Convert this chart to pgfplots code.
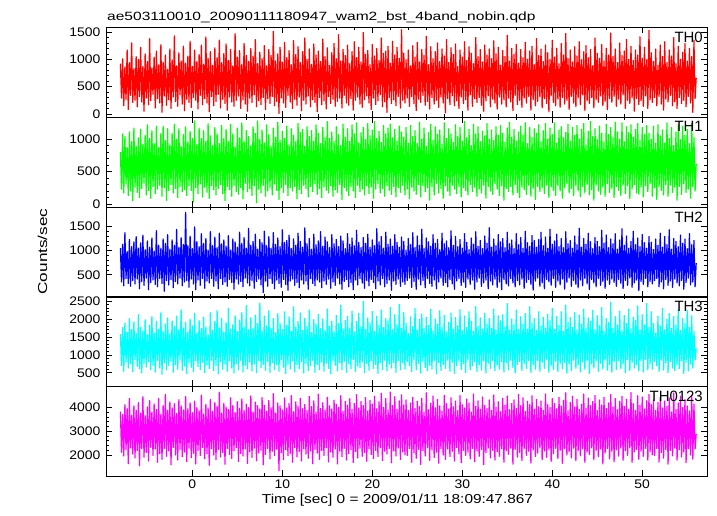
\documentclass[border=0pt]{standalone}
\usepackage{fontspec}
\setmainfont{Liberation Sans}
\setsansfont{Liberation Sans}
\usepackage{pgfplots}
\usepackage{pgfplotstable}
\pgfplotsset{compat=1.18}
\definecolor{qred}{rgb}{1,0,0}
\definecolor{qgreen}{rgb}{0,1,0}
\definecolor{qblue}{rgb}{0,0,1}
\definecolor{qcyan}{rgb}{0,1,1}
\definecolor{qmag}{rgb}{1,0,1}
% samples every 0.125 s from t=-8 s; columns TH0 TH1 TH2 TH3 TH0123
\pgfplotstableread{
a b c d e
920 800 1050 1580 3820
290 230 350 700 2120
1010 1080 1130 1760 3690
150 170 270 540 1960
860 1040 1370 1890 4110
270 310 420 800 2230
1170 870 980 1630 3950
80 130 320 630 1640
940 1110 1230 2010 4370
340 200 260 750 2300
1300 960 1080 1710 3670
210 50 380 530 2040
830 1170 1180 1920 4060
250 260 310 860 1880
1050 890 1290 1600 3880
130 180 410 680 2190
1000 1020 1050 2120 4200
320 100 210 610 1550
1220 1150 1160 1770 3760
220 240 360 490 2270
870 920 1320 1670 4450
50 320 280 760 1910
1100 1060 1020 1980 3650
290 140 430 660 2110
960 1220 1200 1560 4020
170 210 190 810 1750
1380 1010 1070 1830 4280
240 90 340 580 2330
840 1130 1260 2070 3800
360 270 390 710 1980
1040 930 990 1620 4140
110 160 300 520 2250
1150 1200 1410 1940 3910
280 230 250 850 1700
900 870 1110 1720 4370
200 290 420 630 2060
1270 1090 1050 2190 3710
30 120 320 460 1820
950 1200 1240 1650 4080
330 250 160 770 2280
1080 980 1150 1860 4540
160 60 380 580 1950
820 1160 1330 2030 3870
260 210 290 700 2170
1190 910 1030 1590 4230
100 300 400 820 1590
990 1090 1220 1950 3980
310 170 230 510 2320
1430 1230 1110 1800 4150
230 240 360 730 2000
880 1000 1440 2080 3750
140 100 310 600 1790
1120 1160 1070 1700 4320
350 270 430 870 2240
970 890 1270 2260 4060
180 190 270 570 1930
1240 1070 1130 1750 3890
60 220 350 690 2130
930 1190 1790 1910 4460
270 130 380 480 1720
1060 960 1100 1640 3940
210 280 240 780 2290
1330 1120 1300 2000 4190
120 210 410 650 1890
870 1010 1040 1810 3780
300 30 310 530 2080
1170 1280 1490 2160 4260
250 250 190 840 1630
960 920 1190 1610 4000
90 160 390 670 2190
1090 1170 1080 1960 3860
340 310 280 590 1980
1260 1010 1350 1730 4510
170 110 420 790 2320
910 1130 1150 2050 3720
280 260 220 500 1850
1410 970 1250 1780 4130
200 180 370 720 2050
1020 1240 1010 1570 3970
40 90 330 620 1570
1140 1050 1390 2180 4330
320 280 420 850 2260
890 900 1100 1690 3840
150 220 260 560 2000
1210 1180 1280 1940 4210
230 140 370 700 1800
1030 1080 1060 2240 4050
360 240 210 470 2230
1350 930 1360 1750 4630
110 300 420 810 1920
940 1210 1140 2020 3770
270 160 300 600 2110
1110 1010 1220 1630 4170
190 50 350 740 1620
1280 1150 1090 1900 4010
70 270 260 540 2270
980 960 1310 2300 3910
310 220 400 830 2020
1180 1230 1010 1720 4400
220 120 340 630 1860
880 1080 1240 1840 4080
140 290 200 490 2180
1470 880 1180 2090 3790
250 190 410 760 2310
1040 1170 1070 1650 4240
330 150 310 580 1730
1160 1020 1380 1970 3960
100 250 360 850 2070
910 1250 1150 2180 4350
260 80 250 520 1960
1290 970 1270 1780 3870
180 320 430 710 2250
1070 1130 1050 2370 4130
50 190 330 610 1650
960 1040 1460 1700 3990
290 240 270 800 2140
1200 900 1110 2040 4480
210 130 380 550 1900
1060 1190 1190 1740 3810
350 280 220 750 2290
1360 1090 1340 2110 4220
130 20 360 500 1760
920 1280 1030 1870 4070
240 230 410 840 2090
1130 990 1230 2440 3930
170 170 290 630 2200
1010 1140 1160 1670 4410
300 290 130 730 1590
1250 940 1400 2080 4090
80 120 370 570 2030
880 1220 1100 1810 3840
280 200 260 820 2280
1180 1070 1290 2230 4290
190 260 420 510 1840
1070 890 1050 1740 3980
320 140 320 780 2160
1510 1170 1370 2010 4570
150 310 210 590 1980
970 1030 1130 1620 3760
230 210 390 720 2240
1100 1260 1260 2150 4180
10 70 320 540 1340
1220 980 1080 1880 4060
290 250 240 860 2100
950 1120 1430 1710 3890
200 180 400 650 1810
1310 1010 1170 2200 4390
120 300 300 480 2220
1030 1200 1210 1830 3970
340 130 180 740 1970
1160 910 1320 2060 4160
220 250 370 600 2070
900 1160 1040 1660 4490
100 200 410 830 1700
1340 1060 1240 2340 3820
270 270 280 520 2310
1090 960 1110 1770 4230
160 80 340 720 1920
1230 1240 1360 1930 4040
310 220 230 610 2150
940 1100 1190 2170 4380
60 160 390 810 1750
1140 1150 1070 1680 3940
250 290 310 490 2260
1390 890 1470 2020 4120
180 240 370 760 2040
1000 1190 1140 1790 3860
330 110 200 560 1870
1190 1040 1250 2250 4460
130 270 420 700 2170
910 1130 1030 1620 4030
260 190 320 850 1640
1280 970 1340 1980 4270
210 310 270 510 2240
1080 1220 1120 1850 3800
40 150 390 730 2080
1150 1090 1200 2130 4550
300 240 350 590 1820
960 930 1390 1730 3950
170 100 230 800 2190
1370 1180 1090 2000 4190
240 260 370 540 1980
1050 1020 1280 1690 3880
90 210 300 770 2300
1210 1270 1180 2280 4420
320 170 410 620 1710
890 1010 1060 1800 4060
190 280 220 470 2130
1120 1110 1330 1940 3930
270 120 350 840 1910
1290 960 1140 1660 4300
140 220 280 710 2250
1010 1190 1230 2100 4120
230 180 430 550 1630
1450 1070 1080 1870 3990
290 300 310 780 2170
970 900 1300 2390 4490
110 70 200 580 1930
1180 1230 1200 1720 3830
340 250 360 820 2280
1070 1030 1040 1960 4250
200 200 400 510 1790
1260 1160 1350 2070 4090
160 130 250 750 2060
920 970 1130 1750 4360
280 270 340 610 2220
1140 1220 1260 2220 3910
70 200 190 870 1690
1320 1080 1100 1640 4160
250 100 390 530 2150
1030 1250 1420 1930 4530
310 290 290 690 1880
1220 940 1170 2160 3970
180 190 420 640 2290
950 1100 1060 1780 4240
120 230 330 800 1950
1490 1180 1270 2490 4070
260 140 220 500 2110
1090 990 1150 1710 4410
330 280 380 760 1740
1160 1240 1340 2030 3850
200 160 270 570 2260
900 1050 1070 1870 4290
80 260 400 830 2020
1270 1140 1220 2210 4140
290 90 340 620 1850
1060 1270 1100 1650 4460
170 230 210 730 2190
1200 1010 1450 2080 3940
240 310 370 480 1940
980 1120 1180 1820 4230
350 170 290 780 2300
1390 950 1290 2250 4590
130 240 420 590 1770
1110 1210 1050 1760 4000
220 120 250 850 2160
1150 1080 1380 2010 4370
30 280 320 550 2040
1240 1170 1130 1950 3890
300 210 390 740 2270
930 1230 1240 2320 4640
190 150 180 630 1680
1330 1020 1090 1700 4080
260 270 370 790 2180
1080 1150 1330 2120 4440
150 110 300 510 1960
1220 970 1170 1840 3920
320 250 410 840 2290
1020 1200 1070 2410 4270
110 180 260 580 1810
1540 1110 1280 1740 4520
250 290 350 770 2130
1110 1030 1190 2180 4100
200 140 300 600 2010
990 1180 1010 1880 4310
290 230 380 810 1980
1170 940 1250 1600 3870
140 80 430 700 2270
880 1210 1120 2060 4180
320 260 240 530 1700
1250 1040 1370 1790 4420
190 200 360 860 2090
1040 1130 1060 2290 3960
60 150 200 580 1860
1310 930 1300 1690 4250
270 300 410 760 2240
950 1260 1110 1990 4030
210 110 290 490 1610
1180 1000 1440 2140 4380
340 280 380 820 2180
1070 1170 1040 1730 3790
160 190 230 640 1960
1420 890 1260 2050 4610
230 250 420 550 2300
900 1100 1180 1820 3900
90 60 320 710 1780
1230 1230 1090 2270 4170
300 270 260 600 2210
1010 980 1330 1660 4470
180 140 390 840 1900
1140 1190 1150 2000 3980
250 320 210 470 2120
1300 1070 1230 1860 4330
120 170 350 780 1660
960 1140 1020 2230 4060
310 240 430 560 2270
1190 920 1360 1770 3840
200 90 280 730 2000
1060 1250 1140 2100 4500
20 280 340 620 1820
1360 1010 1200 1640 4150
280 200 250 850 2250
940 1160 1060 1910 3930
170 130 400 540 1940
1210 1080 1410 2170 4400
330 290 310 790 2160
1090 950 1110 1720 4020
150 230 200 480 1750
1280 1220 1290 2040 4260
240 160 370 700 2310
870 1040 1080 1810 3860
100 270 420 820 2050
1170 1180 1230 2260 4490
310 110 280 590 1680
1040 970 1050 1680 4110
190 250 350 750 2200
1320 1270 1350 2080 3970
260 210 240 510 1990
980 1020 1170 1760 4350
70 140 410 860 2120
1230 1150 1020 2200 4180
350 300 300 580 1840
1110 900 1260 1940 3800
140 190 390 690 2280
920 1230 1130 1650 4560
280 260 200 800 1720
1400 1080 1390 2350 4040
210 120 350 530 2170
1050 1190 1090 1790 4270
300 230 430 720 1950
1180 960 1210 2030 3920
160 170 260 570 2240
950 1120 1040 1720 4430
50 290 330 830 1600
1260 1050 1300 2160 4080
240 90 390 490 2100
1080 1240 1150 1860 3950
330 270 210 760 2290
1190 1000 1470 2010 4310
130 200 370 620 1880
1010 1140 1070 1740 3870
270 150 290 840 2200
1340 980 1240 2280 4520
200 310 410 550 1790
1100 1190 1100 1690 4000
90 230 240 710 2140
1220 1060 1330 2090 4230
310 130 350 600 1950
890 1210 1180 1950 3810
180 280 190 800 2260
1160 1090 1250 2120 4380
260 60 400 520 1700
1050 950 1060 1780 4090
130 240 310 770 2180
1440 1170 1380 2430 4470
290 190 270 580 2030
970 1260 1140 1690 3900
220 270 420 850 2290
1200 1030 1220 2000 4160
60 140 330 640 1620
1090 1150 1040 1840 4310
340 300 250 490 2240
1270 970 1350 2250 3950
170 180 380 730 1910
930 1110 1120 1700 4540
250 100 290 810 2110
1180 1200 1270 2060 4070
120 260 410 560 1770
1030 1060 1050 1850 4400
290 220 220 760 2270
1310 1250 1400 2150 3830
200 150 340 620 1990
1000 930 1160 1720 4250
320 290 400 840 2160
1150 1180 1090 2340 4120
70 120 300 500 1660
1240 1020 1310 1890 4480
260 240 180 720 2210
900 1160 1210 2010 3920
150 70 370 600 1940
1380 1090 1070 1680 4330
230 270 430 830 2080
1070 1220 1230 2200 4020
310 190 260 540 2300
1190 960 1380 1800 4260
110 250 330 780 1800
960 1130 1100 2050 3880
280 160 210 620 2170
1260 1240 1280 1750 4560
190 290 400 870 1900
1120 1000 1050 2130 4110
40 100 350 510 2230
1000 1170 1440 1960 3990
330 260 280 700 1730
1350 1070 1130 2300 4370
210 210 420 590 2050
1040 1250 1200 1710 4160
150 130 240 820 2280
1200 940 1340 2070 3940
270 280 370 530 1850
920 1140 1080 1820 4420
120 200 290 750 2190
1290 1190 1250 2200 4050
300 90 410 610 1650
1080 1020 1060 1660 4290
180 250 200 790 2260
1470 1100 1390 2390 4610
250 310 340 480 2000
1010 1230 1140 1910 3850
80 170 430 740 2140
1170 970 1210 2040 4200
320 240 260 560 1880
950 1180 1050 1770 4460
200 130 380 850 2290
1230 1060 1300 2180 4010
130 280 300 620 1760
1060 1210 1120 1690 4340
290 200 230 710 2180
1320 1000 1460 2110 3920
170 110 390 520 1970
990 1150 1070 1860 4130
350 270 270 800 2260
1140 1240 1250 2270 4560
60 170 420 590 1690
1250 910 1130 1750 3960
240 300 310 830 2120
1030 1120 1360 2030 4390
190 140 190 480 2020
1180 1270 1180 1940 4080
300 220 400 740 2300
880 1040 1040 2240 4240
110 60 330 630 1800
1390 1160 1270 1700 4490
260 290 250 820 2190
1110 990 1190 2090 3870
210 200 420 540 1930
1020 1200 1080 1810 4310
330 150 280 760 2250
1270 1090 1420 2320 4100
150 260 360 600 1630
970 950 1150 1660 4420
230 120 220 850 2080
1200 1230 1320 2010 3950
80 310 390 570 2270
1080 1070 1060 1900 4180
280 180 300 720 1840
1480 1180 1240 2470 4540
210 240 410 510 2150
1050 1020 1140 1740 4010
320 100 340 800 1720
1190 1260 1350 2070 4370
140 270 260 590 2220
940 1110 1030 1830 3900
270 210 400 830 1960
1300 1000 1220 2220 4250
180 130 320 610 2290
1070 1250 1450 1680 4460
350 290 210 740 1780
1150 960 1110 2100 4030
100 160 380 500 2180
1360 1190 1300 1870 4340
250 280 280 860 1990
1000 1100 1050 2280 3920
190 80 430 560 2300
1240 1220 1190 1730 4620
300 230 240 780 1690
980 1030 1400 2050 4150
50 300 330 630 2130
1170 1150 1120 1960 3880
280 170 390 720 2240
1080 1240 1260 2360 4480
170 150 170 550 1820
1410 980 1080 1700 4080
240 260 360 840 2160
1020 1180 1330 2120 4430
140 110 300 520 1950
1220 1070 1160 1830 3930
330 280 420 860 2280
990 1210 1050 2430 4270
100 190 250 580 1790
1530 1090 1290 1760 4540
260 310 360 750 2140
1120 1000 1170 2200 4120
210 120 310 600 2010
960 1200 1020 1870 4310
300 250 380 820 1980
1190 940 1240 1610 3860
150 70 420 690 2270
890 1220 1110 2080 4200
320 270 250 540 1710
1260 1050 1360 1800 4410
180 210 350 850 2100
1050 1140 1070 2300 3970
70 140 210 570 1870
1320 940 1290 1700 4260
270 300 400 770 2230
940 1250 1120 2000 4040
220 120 280 500 1620
1170 1010 1430 2150 4390
340 290 370 810 2190
1060 1180 1030 1740 3800
150 180 240 630 1970
1400 900 1250 2070 4600
220 260 410 560 2290
920 1110 1190 1830 3910
100 60 330 720 1790
1240 1220 1080 2260 4180
300 270 270 610 2220
1000 990 1320 1680 4460
190 150 380 830 1920
1130 1200 1150 2010 3990
250 310 200 480 2130
1290 1060 1240 1870 4320
130 180 340 790 1680
970 1150 1040 2240 4060
320 230 430 550 2260
1200 930 1350 1770 3850
200 90 290 740 2000
1050 1240 1120 2090 4500
30 270 350 630 1830
1350 1020 1210 1650 4140
280 200 250 850 2250
660 620 740 1180 2880
}\lc
\newcommand{\tl}[1]{\scalebox{1.12}[1]{#1}}
\pgfplotsset{
  panel/.style={
    scale only axis, width=601bp, height=90bp,
    anchor=north west,
    xmin=-9.6, xmax=57.2,
    xtick={0,10,...,50}, minor x tick num=4, minor y tick num=4,
    tick align=inside, major tick length=6bp, minor tick length=3bp,
    axis line style={line width=0.8bp},
    every tick/.style={black, line width=0.6bp},
    tick label style={font=\fontsize{12.5}{14}\selectfont},
    /pgf/number format/assume math mode=true,
    /pgf/number format/1000 sep={},
    xticklabel={\tl{\pgfmathprintnumber{\tick}}},
    yticklabel={\tl{\pgfmathprintnumber{\tick}}},
    yticklabel style={xshift=-2bp},
    every axis plot/.append style={line width=1.2bp, line join=round, mark=none},
  },
}
\tikzset{lab/.style={anchor=north east, inner sep=0pt, xshift=-4bp, yshift=-4.5bp, font=\fontsize{15}{17}\selectfont}}
\begin{document}
\begin{tikzpicture}
\useasboundingbox (0,0) rectangle (717bp,-516bp);
\begin{axis}[panel, at={(106bp,-27bp)}, ymin=-55, ymax=1590, ytick={0,500,1000,1500}, xticklabels={}]
\addplot[qred] table[x expr=\coordindex*0.125-8, y=a]{\lc};
\node[lab] at (rel axis cs:1,1) {TH0};
\end{axis}
\begin{axis}[panel, at={(106bp,-117bp)}, ymin=-45, ymax=1340, ytick={0,500,1000}, xticklabels={}]
\addplot[qgreen] table[x expr=\coordindex*0.125-8, y=b]{\lc};
\node[lab] at (rel axis cs:1,1) {TH1};
\end{axis}
\begin{axis}[panel, at={(106bp,-207bp)}, ymin=40, ymax=1900, ytick={500,1000,1500}, xticklabels={}]
\addplot[qblue] table[x expr=\coordindex*0.125-8, y=c]{\lc};
\node[lab] at (rel axis cs:1,1) {TH2};
\end{axis}
\begin{axis}[panel, at={(106bp,-296bp)}, ymin=130, ymax=2640, ytick={500,1000,...,2500}, xticklabels={}]
\addplot[qcyan] table[x expr=\coordindex*0.125-8, y=d]{\lc};
\node[lab] at (rel axis cs:1,1) {TH3};
\end{axis}
\begin{axis}[panel, at={(106bp,-386bp)}, ymin=1125, ymax=4890, ytick={2000,3000,4000}]
\addplot[qmag] table[x expr=\coordindex*0.125-8, y=e]{\lc};
\node[lab] at (rel axis cs:1,1) {TH0123};
\end{axis}
\node[anchor=base west, inner sep=0pt, font=\fontsize{12}{14}\selectfont] at (107bp,-20.5bp) {\scalebox{1.3}[1]{ae503110010\_20090111180947\_wam2\_bst\_4band\_nobin.qdp}};
\node[rotate=90, anchor=base, inner sep=0pt, font=\fontsize{13}{15}\selectfont] at (47bp,-251.5bp) {\scalebox{1.33}[1]{Counts/sec}};
\node[anchor=base, inner sep=0pt, font=\fontsize{13}{15}\selectfont] at (397.5bp,-503.5bp) {\scalebox{1.19}[1]{Time [sec] 0 = 2009/01/11 18:09:47.867}};
\end{tikzpicture}
\end{document}
